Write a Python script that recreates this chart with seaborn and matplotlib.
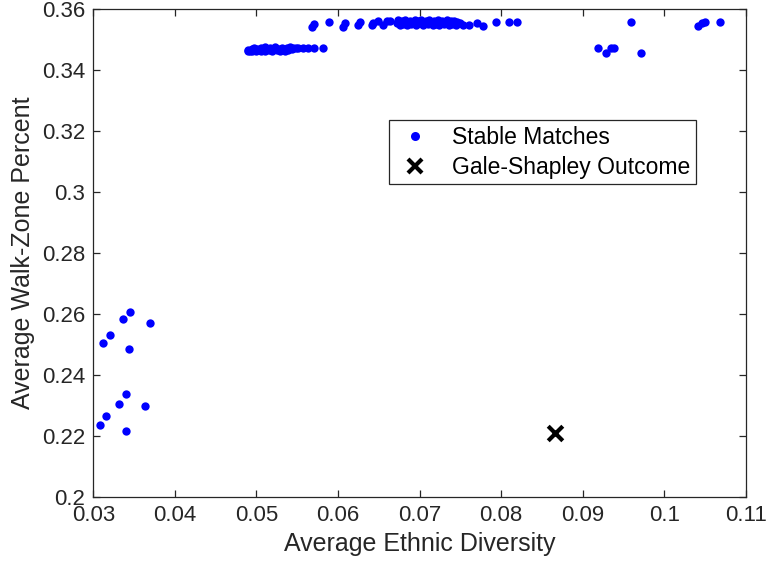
import matplotlib
matplotlib.use("Agg")
import matplotlib.pyplot as plt
import seaborn as sns
import pandas as pd
from matplotlib.lines import Line2D

# Stable matches: low-diversity cluster
low_x = [0.0312, 0.0321, 0.0337, 0.0345, 0.0369, 0.0344, 0.0340, 0.0332, 0.0363, 0.0316, 0.0308, 0.0340]
low_y = [0.2505, 0.2531, 0.2582, 0.2605, 0.2570, 0.2486, 0.2338, 0.2305, 0.2298, 0.2266, 0.2235, 0.2217]

# Stable matches: band near 0.347
band1_x = [0.0490, 0.0490, 0.0492, 0.0494, 0.0495, 0.0497, 0.0498, 0.0500, 0.0501, 0.0503,
           0.0505, 0.0506, 0.0508, 0.0510, 0.0511, 0.0513, 0.0515, 0.0517, 0.0519, 0.0521,
           0.0523, 0.0525, 0.0527, 0.0529, 0.0531, 0.0533, 0.0535, 0.0537, 0.0539, 0.0541,
           0.0543, 0.0545, 0.0548, 0.0551, 0.0557, 0.0563, 0.0570, 0.0582,
           0.0919, 0.0928, 0.0934, 0.0938, 0.0971]
band1_y = [0.3462, 0.3468, 0.3464, 0.3470, 0.3462, 0.3474, 0.3466, 0.3462, 0.3471, 0.3467,
           0.3474, 0.3463, 0.3469, 0.3475, 0.3462, 0.3470, 0.3466, 0.3474, 0.3462, 0.3469,
           0.3475, 0.3465, 0.3471, 0.3463, 0.3474, 0.3468, 0.3462, 0.3472, 0.3466, 0.3475,
           0.3470, 0.3474, 0.3472, 0.3474, 0.3474, 0.3474, 0.3474, 0.3474,
           0.3472, 0.3458, 0.3472, 0.3472, 0.3458]

# Stable matches: band near 0.356
band2_x = [0.0568, 0.0570, 0.0589, 0.0606, 0.0608, 0.0625, 0.0627, 0.0641, 0.0643, 0.0649,
           0.0655, 0.0660, 0.0664,
           0.0672, 0.0674, 0.0676, 0.0678, 0.0680, 0.0682, 0.0684, 0.0686, 0.0688, 0.0690,
           0.0692, 0.0694, 0.0696, 0.0698, 0.0700, 0.0702, 0.0704, 0.0706, 0.0708, 0.0710,
           0.0712, 0.0714, 0.0716, 0.0718, 0.0720, 0.0722, 0.0724, 0.0726, 0.0728, 0.0730,
           0.0732, 0.0734, 0.0736, 0.0738, 0.0740, 0.0742, 0.0744, 0.0746, 0.0749, 0.0753,
           0.0760, 0.0770, 0.0778,
           0.0793, 0.0809, 0.0819, 0.0959, 0.1041, 0.1046, 0.1050, 0.1068]
band2_y = [0.3543, 0.3552, 0.3557, 0.3543, 0.3554, 0.3547, 0.3557, 0.3548, 0.3554, 0.3560,
           0.3550, 0.3560, 0.3563,
           0.3556, 0.3564, 0.3549, 0.3560, 0.3553, 0.3565, 0.3548, 0.3558, 0.3562, 0.3551,
           0.3557, 0.3565, 0.3548, 0.3560, 0.3554, 0.3564, 0.3549, 0.3558, 0.3562, 0.3552,
           0.3566, 0.3556, 0.3548, 0.3561, 0.3553, 0.3565, 0.3549, 0.3558, 0.3562, 0.3551,
           0.3557, 0.3564, 0.3548, 0.3560, 0.3553, 0.3563, 0.3550, 0.3558, 0.3554, 0.3548,
           0.3550, 0.3554, 0.3545,
           0.3559, 0.3559, 0.3559, 0.3559, 0.3545, 0.3556, 0.3559, 0.3559]

# Gale-Shapley outcome
gs_x = [0.0866]
gs_y = [0.2210]

x_ticks = [0.03, 0.04, 0.05, 0.06, 0.07, 0.08, 0.09, 0.10, 0.11]
x_tick_labels = ["0.03", "0.04", "0.05", "0.06", "0.07", "0.08", "0.09", "0.1", "0.11"]
y_ticks = [0.20, 0.22, 0.24, 0.26, 0.28, 0.30, 0.32, 0.34, 0.36]
y_tick_labels = ["0.2", "0.22", "0.24", "0.26", "0.28", "0.3", "0.32", "0.34", "0.36"]

stable = pd.DataFrame({
    "diversity": low_x + band1_x + band2_x,
    "walk": low_y + band1_y + band2_y,
})
gale = pd.DataFrame({"diversity": gs_x, "walk": gs_y})

sns.set_style("white")
plt.rcParams["font.family"] = ["Liberation Sans", "DejaVu Sans"]

fig = plt.figure(figsize=(7.66, 5.67), dpi=100)
ax = fig.add_axes([0.1218, 0.124, 0.8521, 0.8596])

sns.scatterplot(data=stable, x="diversity", y="walk", ax=ax, color="#0000ff",
                s=36, linewidth=0, marker="o", zorder=3)
sns.scatterplot(data=gale, x="diversity", y="walk", ax=ax, color="black",
                s=110, marker="x", linewidth=3, zorder=4)

ax.set_xlim(0.03, 0.11)
ax.set_ylim(0.20, 0.36)
ax.set_xticks(x_ticks)
ax.set_xticklabels(x_tick_labels)
ax.set_yticks(y_ticks)
ax.set_yticklabels(y_tick_labels)

axis_color = "#262626"
for sp in ax.spines.values():
    sp.set_visible(True)
    sp.set_color(axis_color)
    sp.set_linewidth(0.9)
ax.tick_params(direction="in", length=5, width=0.9, color=axis_color,
               labelsize=16, labelcolor=axis_color, pad=6,
               top=True, right=True, bottom=True, left=True)

ax.set_xlabel("Average Ethnic Diversity", fontsize=18, color=axis_color, labelpad=4)
ax.set_ylabel("Average Walk-Zone Percent", fontsize=18, color=axis_color, labelpad=5)

handles = [
    Line2D([], [], linestyle="none", marker="o", markersize=6.5,
           markerfacecolor="#0000ff", markeredgewidth=0),
    Line2D([], [], linestyle="none", marker="x", markersize=10,
           color="black", markeredgewidth=3),
]
leg = ax.legend(handles, ["Stable Matches", "Gale-Shapley Outcome"],
                loc="upper right", bbox_to_anchor=(0.9234, 0.7729),
                fontsize=16.5, frameon=True, fancybox=False, framealpha=1,
                borderpad=0.25, labelspacing=0.3, handletextpad=0.7,
                handlelength=1.8, borderaxespad=0)
leg.get_frame().set_edgecolor(axis_color)
leg.get_frame().set_linewidth(0.9)
for t in leg.get_texts():
    t.set_color("black")

fig.savefig("out.png", dpi=100)
